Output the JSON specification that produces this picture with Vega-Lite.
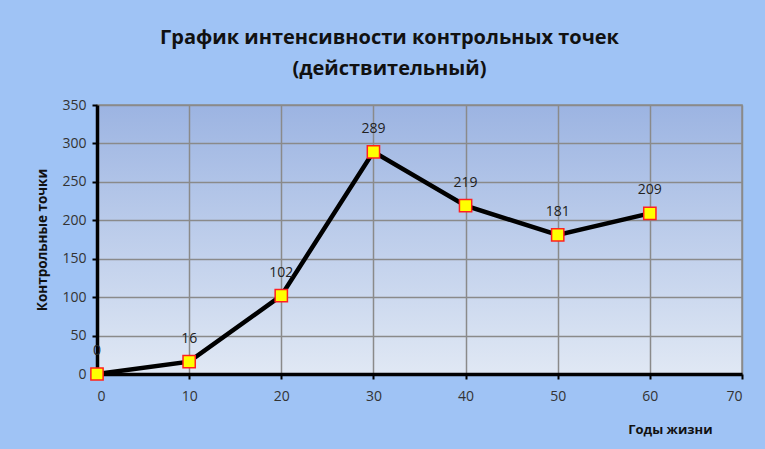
{
  "$schema": "https://vega.github.io/schema/vega-lite/v6.json",
  "autosize": {"type": "none"},
  "padding": {"left": 97, "top": 105, "right": 23, "bottom": 75},
  "width": 645,
  "height": 269,
  "background": "#9fc3f5",
  "config": {
    "font": "Open Sans",
    "view": {
      "stroke": "#8a8a8a",
      "strokeWidth": 1.5,
      "fill": {
        "gradient": "linear",
        "x1": 0, "y1": 0, "x2": 0, "y2": 1,
        "stops": [
          {"offset": 0, "color": "#9cb4e2"},
          {"offset": 1, "color": "#e0e8f4"}
        ]
      }
    }
  },
  "title": {
    "text": ["График интенсивности контрольных точек", "(действительный)"],
    "font": "Open Sans",
    "fontSize": 20,
    "fontWeight": "bold",
    "color": "#111111",
    "lineHeight": 31,
    "anchor": "middle",
    "dx": -30,
    "offset": 19
  },
  "data": {
    "values": [
      {"year": 0, "points": 0},
      {"year": 10, "points": 16},
      {"year": 20, "points": 102},
      {"year": 30, "points": 289},
      {"year": 40, "points": 219},
      {"year": 50, "points": 181},
      {"year": 60, "points": 209}
    ]
  },
  "encoding": {
    "x": {
      "field": "year",
      "type": "quantitative",
      "scale": {"domain": [0, 70], "nice": false, "zero": true},
      "axis": {
        "values": [0, 10, 20, 30, 40, 50, 60, 70],
        "title": "Годы жизни",
        "titleFont": "Open Sans",
        "titleFontSize": 13,
        "titleFontWeight": "bold",
        "titleColor": "#111111",
        "titleAnchor": "end",
        "titlePadding": 20,
        "titleX": 615,
        "titleAlign": "right",
        "labelFont": "Open Sans",
        "labelFontSize": 14,
        "labelColor": "#333333",
        "labelPadding": 10,
        "domainColor": "#000000",
        "domainWidth": 3.5,
        "tickColor": "#000000",
        "tickWidth": 2,
        "tickSize": 5,
        "grid": true,
        "gridColor": "#8a8a8a",
        "gridWidth": 1.5
      }
    },
    "y": {
      "field": "points",
      "type": "quantitative",
      "scale": {"domain": [0, 350], "nice": false},
      "axis": {
        "values": [0, 50, 100, 150, 200, 250, 300, 350],
        "title": "Контрольные  точки",
        "titleFont": "Open Sans",
        "titleFontSize": 13.5,
        "titleFontWeight": "bold",
        "titleColor": "#111111",
        "titlePadding": 12,
        "labelFont": "Open Sans",
        "labelFontSize": 14,
        "labelColor": "#333333",
        "labelPadding": 6,
        "domainColor": "#000000",
        "domainWidth": 3.5,
        "tickColor": "#000000",
        "tickWidth": 2,
        "tickSize": 5,
        "grid": true,
        "gridColor": "#8a8a8a",
        "gridWidth": 1.5
      }
    }
  },
  "layer": [
    {
      "mark": {"type": "line", "color": "#000000", "strokeWidth": 4.5}
    },
    {
      "mark": {
        "type": "point",
        "shape": "square",
        "filled": true,
        "fill": "#ffff00",
        "stroke": "#ff2020",
        "strokeWidth": 1.5,
        "size": 150,
        "opacity": 1
      }
    },
    {
      "mark": {
        "type": "text",
        "dy": -23,
        "font": "Open Sans",
        "fontSize": 14,
        "color": "#222222"
      },
      "encoding": {"text": {"field": "points", "type": "quantitative"}}
    }
  ]
}
